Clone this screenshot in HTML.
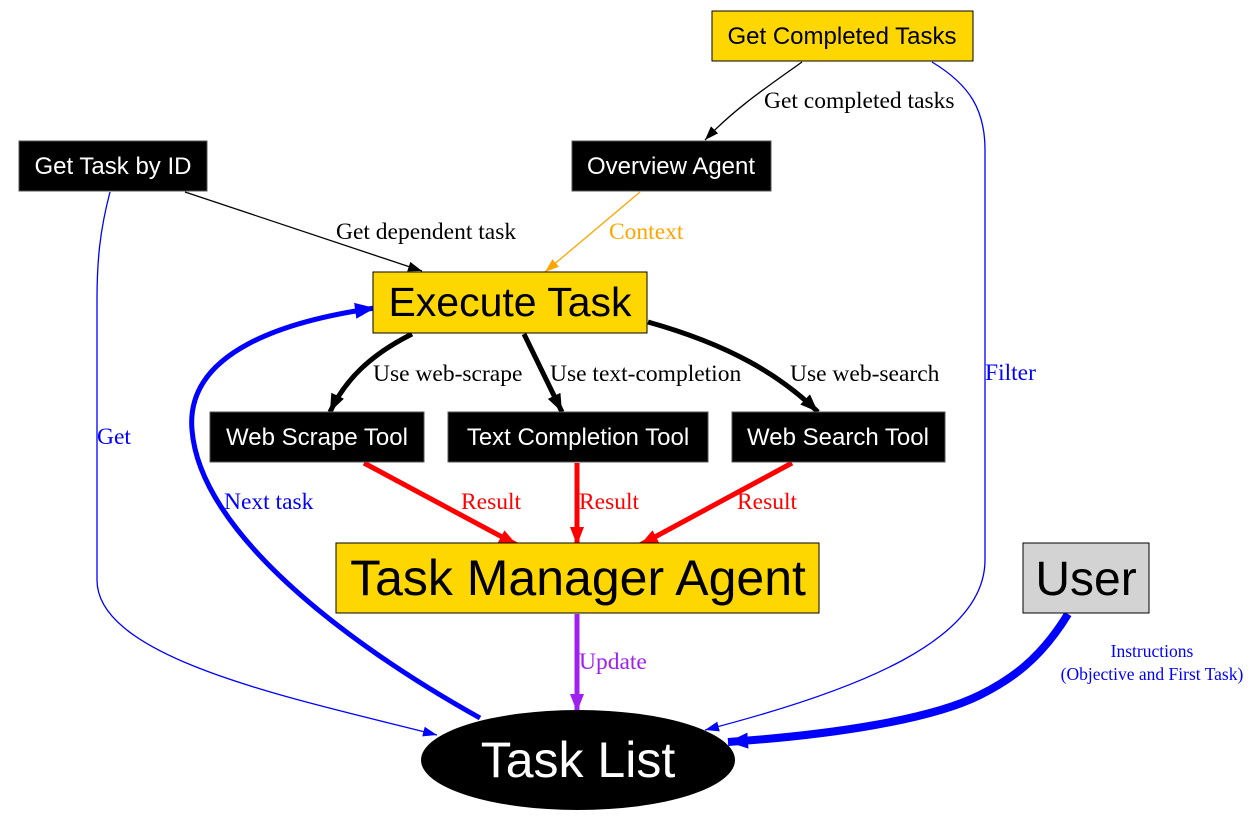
<!DOCTYPE html>
<html><head><meta charset="utf-8"><style>
html,body{margin:0;padding:0;background:#fff;width:1260px;height:830px;overflow:hidden}
svg{display:block}
.s{font-family:"Liberation Sans",sans-serif}
.r{font-family:"Liberation Serif",serif;font-size:23.5px}
</style></head><body>
<svg width="1260" height="830" viewBox="0 0 1260 830">
<defs>
<marker id="ak" markerUnits="userSpaceOnUse" markerWidth="20" markerHeight="20" refX="14" refY="7" orient="auto"><path d="M0,2 L14,7 L0,12 Z" fill="#000"/></marker>
<marker id="akb" markerUnits="userSpaceOnUse" markerWidth="24" markerHeight="24" refX="18" refY="9" orient="auto"><path d="M0,2 L18,9 L0,16 Z" fill="#000"/></marker>
<marker id="ao" markerUnits="userSpaceOnUse" markerWidth="20" markerHeight="20" refX="14" refY="7" orient="auto"><path d="M0,2 L14,7 L0,12 Z" fill="#ffa500"/></marker>
<marker id="ab" markerUnits="userSpaceOnUse" markerWidth="20" markerHeight="20" refX="14" refY="7" orient="auto"><path d="M0,2 L14,7 L0,12 Z" fill="#0000ff"/></marker>
<marker id="abb" markerUnits="userSpaceOnUse" markerWidth="26" markerHeight="26" refX="20" refY="10" orient="auto"><path d="M0,2 L20,10 L0,18 Z" fill="#0000ff"/></marker>
<marker id="ar" markerUnits="userSpaceOnUse" markerWidth="24" markerHeight="24" refX="18" refY="9" orient="auto"><path d="M0,2 L18,9 L0,16 Z" fill="#ff0000"/></marker>
<marker id="ap" markerUnits="userSpaceOnUse" markerWidth="24" markerHeight="24" refX="18" refY="9" orient="auto"><path d="M0,2 L18,9 L0,16 Z" fill="#a020f0"/></marker>
</defs>
<path d="M802,62 C770,85 735,108 705,140" stroke="#000" stroke-width="1.3" fill="none" marker-end="url(#ak)"/>
<path d="M185,192 L422,271" stroke="#000" stroke-width="1.3" fill="none" marker-end="url(#ak)"/>
<path d="M640,192 L545,272" stroke="#ffa500" stroke-width="1.3" fill="none" marker-end="url(#ao)"/>
<path d="M932,62 C970,85 985,110 985,150 L985,560 C985,640 860,690 705,730" stroke="#0000ff" stroke-width="1.3" fill="none" marker-end="url(#ab)"/>
<path d="M110,192 C100,230 97,260 97,300 L97,580 C97,660 300,700 437,735" stroke="#0000ff" stroke-width="1.3" fill="none" marker-end="url(#ab)"/>
<path d="M480,718 C340,640 200,530 192,430 C185,350 290,320 375,308" stroke="#0000ff" stroke-width="5" fill="none" marker-end="url(#abb)"/>
<path d="M412,334 C370,355 345,380 330,412" stroke="#000" stroke-width="5" fill="none" marker-end="url(#akb)"/>
<path d="M524,334 L562,412" stroke="#000" stroke-width="5" fill="none" marker-end="url(#akb)"/>
<path d="M648,322 C730,345 780,375 818,412" stroke="#000" stroke-width="5" fill="none" marker-end="url(#akb)"/>
<path d="M364,463 L517,545" stroke="#ff0000" stroke-width="5" fill="none" marker-end="url(#ar)"/>
<path d="M577,463 L577,545" stroke="#ff0000" stroke-width="5" fill="none" marker-end="url(#ar)"/>
<path d="M792,463 L640,545" stroke="#ff0000" stroke-width="5" fill="none" marker-end="url(#ar)"/>
<path d="M577,614 L577,712" stroke="#a020f0" stroke-width="5" fill="none" marker-end="url(#ap)"/>
<path d="M1068,614 C1040,660 1010,680 980,695 C930,720 830,735 728,742" stroke="#0000ff" stroke-width="8" fill="none" marker-end="url(#abb)"/>
<text x="764" y="108" class="r" fill="#000">Get completed tasks</text>
<text x="336" y="239" class="r" fill="#000">Get dependent task</text>
<text x="609" y="239" class="r" fill="#ffa500">Context</text>
<text x="985" y="380" class="r" fill="#0000ff">Filter</text>
<text x="97" y="444" class="r" fill="#0000ff">Get</text>
<text x="224" y="509" class="r" fill="#0000ff">Next task</text>
<text x="373" y="381" class="r" fill="#000">Use web-scrape</text>
<text x="550" y="381" class="r" fill="#000">Use text-completion</text>
<text x="790" y="381" class="r" fill="#000">Use web-search</text>
<text x="461" y="509" class="r" fill="#ff0000">Result</text>
<text x="579" y="509" class="r" fill="#ff0000">Result</text>
<text x="737" y="509" class="r" fill="#ff0000">Result</text>
<text x="579" y="669" class="r" fill="#a020f0">Update</text>
<text x="1152" y="657" class="r" fill="#0000ff" text-anchor="middle" style="font-size:17.5px">Instructions</text>
<text x="1152" y="680" class="r" fill="#0000ff" text-anchor="middle" style="font-size:17.5px">(Objective and First Task)</text>
<rect x="712" y="11" width="261" height="50" fill="#ffd700" stroke="#000" stroke-width="1"/>
<text x="842" y="44" class="s" font-size="24" text-anchor="middle">Get Completed Tasks</text>
<rect x="19" y="141" width="188" height="50" fill="#000" stroke="#555"/>
<text x="113" y="174" class="s" font-size="24" fill="#fff" text-anchor="middle">Get Task by ID</text>
<rect x="572" y="141" width="199" height="50" fill="#000" stroke="#555"/>
<text x="671" y="174" class="s" font-size="24" fill="#fff" text-anchor="middle">Overview Agent</text>
<rect x="373" y="272" width="274" height="61" fill="#ffd700" stroke="#000"/>
<text x="510" y="316" class="s" font-size="41" text-anchor="middle">Execute Task</text>
<rect x="210" y="412" width="214" height="50" fill="#000" stroke="#555"/>
<text x="317" y="445" class="s" font-size="24" fill="#fff" text-anchor="middle">Web Scrape Tool</text>
<rect x="448" y="412" width="260" height="50" fill="#000" stroke="#555"/>
<text x="578" y="445" class="s" font-size="24" fill="#fff" text-anchor="middle">Text Completion Tool</text>
<rect x="732" y="412" width="213" height="50" fill="#000" stroke="#555"/>
<text x="838" y="445" class="s" font-size="24" fill="#fff" text-anchor="middle">Web Search Tool</text>
<rect x="336" y="543" width="483" height="70" fill="#ffd700" stroke="#000"/>
<text x="578" y="595" class="s" font-size="50" text-anchor="middle">Task Manager Agent</text>
<rect x="1023" y="543" width="126" height="70" fill="#d3d3d3" stroke="#000"/>
<text x="1086" y="595" class="s" font-size="48" text-anchor="middle">User</text>
<ellipse cx="578" cy="760" rx="157" ry="50" fill="#000"/>
<text x="578" y="777" class="s" font-size="50" fill="#fff" text-anchor="middle">Task List</text>
</svg>
</body></html>
